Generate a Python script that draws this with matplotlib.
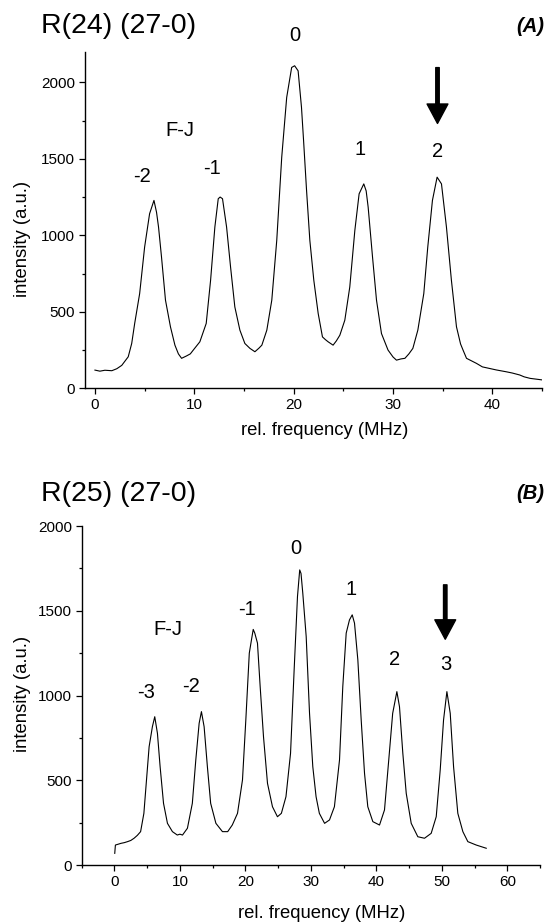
import matplotlib
matplotlib.use("Agg")
import matplotlib.pyplot as plt
from matplotlib.ticker import MultipleLocator

plt.rcParams['font.family'] = ['Liberation Sans', 'DejaVu Sans']

# panel A: R(24) (27-0)
freq_a = [0.0, 0.5, 1.0, 1.7, 2.2, 2.7, 3.35, 3.7, 4.0, 4.5, 5.0, 5.5, 5.94, 6.2, 6.4,
          6.7, 7.1, 7.6, 8.05, 8.4, 8.72, 9.2, 9.6, 9.9, 10.56, 11.2, 11.64, 12.07, 12.41,
          12.6, 12.84, 13.25, 13.65, 14.08, 14.59, 15.09, 15.6, 16.1, 16.5, 16.8, 17.3,
          17.8, 18.3, 18.8, 19.3, 19.8, 20.1, 20.45, 20.79, 21.0, 21.3, 21.63, 22.03,
          22.47, 22.9, 23.2, 23.47, 23.97, 24.3, 24.65, 25.15, 25.65, 26.16, 26.59, 27.06,
          27.3, 27.5, 27.94, 28.34, 28.84, 29.5, 30.0, 30.35, 30.8, 31.2, 31.6, 32.0, 32.5,
          33.1, 33.5, 33.97, 34.44, 34.88, 35.38, 35.88, 36.39, 36.8, 37.05, 37.4, 38.4,
          39.0, 39.7, 40.4, 41.4, 42.0, 42.76, 43.2, 43.8, 44.4, 45.0]
int_a = [119, 112, 118, 115, 128, 150, 206, 293, 424, 619, 923, 1141, 1228, 1150, 1054,
         858, 576, 402, 282, 225, 196, 211, 225, 250, 304, 424, 706, 1054, 1239,
         1250, 1239, 1054, 793, 532, 380, 293, 261, 239, 262, 282, 380,
         576, 967, 1510, 1901, 2097, 2108, 2075, 1836, 1619, 1293, 967, 706,
         489, 336, 318, 304, 282, 310, 347, 445, 662, 1032, 1271, 1336,
         1290, 1184, 858, 576, 358, 250, 205, 184, 192, 196, 225, 261, 380,
         619, 923, 1228, 1380, 1336, 1054, 706, 402, 290, 250, 196, 163,
         140, 130, 120, 108, 100, 87, 75, 65, 60, 55]

# panel B: R(25) (27-0)
freq_b = [0.05, 0.15, 0.5, 1.0, 1.5, 2.0, 2.5, 3.0, 3.5, 4.0, 4.5, 4.9, 5.3, 5.8, 6.16,
          6.57, 6.98, 7.5, 8.1, 8.86, 9.6, 10.0, 10.4, 11.15, 11.9, 12.43, 12.94, 13.29,
          13.7, 14.2, 14.7, 15.5, 16.5, 17.3, 18.0, 18.8, 19.56, 20.07, 20.6, 20.93, 21.2,
          21.44, 21.85, 22.26, 22.77, 23.38, 24.14, 24.9, 25.5, 26.2, 26.9, 27.45, 27.96,
          28.3, 28.5, 28.77, 29.29, 29.8, 30.3, 30.8, 31.3, 32.1, 32.85, 33.6, 34.38,
          34.88, 35.4, 35.9, 36.32, 36.67, 37.18, 37.69, 38.2, 38.7, 39.47, 40.49, 41.25,
          41.9, 42.5, 43.14, 43.54, 44.05, 44.57, 45.33, 46.34, 47.36, 48.38, 49.15, 49.76,
          50.27, 50.78, 51.29, 51.8, 52.45, 53.22, 53.98, 55.26, 56.79]
int_b = [69, 118, 122, 128, 132, 138, 145, 158, 175, 197, 305, 502, 698, 816, 875,
         777, 580, 364, 246, 197, 177, 182, 177, 217, 364, 620, 836, 905,
         816, 580, 364, 246, 197, 197, 236, 305, 502, 856, 1250, 1328, 1390,
         1368, 1309, 1053, 757, 482, 344, 285, 305, 403, 659, 1151, 1584,
         1741, 1720, 1604, 1348, 895, 580, 403, 305, 246, 266, 344, 620,
         1053, 1368, 1446, 1476, 1427, 1210, 856, 541, 344, 256, 236, 325,
         620, 895, 1023, 934, 659, 423, 246, 167, 158, 187, 285, 561,
         856, 1023, 895, 580, 305, 197, 138, 118, 99]

labels_a = ["F-J", "-2", "-1", "0", "1", "2"]
label_pos_a = [(8.55, 1684), (4.7, 1384), (11.74, 1434), (20.1, 2305), (26.66, 1558), (34.47, 1547)]
labels_b = ["F-J", "-3", "-2", "-1", "0", "1", "2", "3"]
label_pos_b = [(8.1, 1387), (4.78, 1017), (11.66, 1052), (20.3, 1505), (27.7, 1870),
               (36.17, 1623), (42.78, 1210), (50.68, 1181)]

fig = plt.figure(figsize=(5.46, 9.23), dpi=100)
ax1 = fig.add_axes([0.1557, 0.5793, 0.837, 0.3647])
ax2 = fig.add_axes([0.1496, 0.0628, 0.8394, 0.3673])


def style(ax, xlim, ylim, xlab_x, xlab_y, ylab_x, ylab_y):
    ax.set_xlim(*xlim)
    ax.set_ylim(*ylim)
    ax.spines['top'].set_visible(False)
    ax.spines['right'].set_visible(False)
    ax.spines['left'].set_linewidth(1.0)
    ax.spines['bottom'].set_linewidth(1.0)
    ax.xaxis.set_major_locator(MultipleLocator(10))
    ax.xaxis.set_minor_locator(MultipleLocator(5))
    ax.yaxis.set_major_locator(MultipleLocator(500))
    ax.yaxis.set_minor_locator(MultipleLocator(250))
    ax.tick_params(which='major', direction='out', length=4, width=0.9, labelsize=11, pad=3)
    ax.tick_params(which='minor', direction='out', length=2.5, width=0.9)
    ax.set_xlabel("rel. frequency (MHz)", fontsize=13.3, va='center')
    ax.set_ylabel("intensity (a.u.)", fontsize=13.3, va='center')
    ax.xaxis.set_label_coords(xlab_x, xlab_y)
    ax.yaxis.set_label_coords(ylab_x, ylab_y)


ax1.plot(freq_a, int_a, color='black', lw=0.8)
style(ax1, (-1, 45), (0, 2200), 0.525, -0.124, -0.137, 0.444)
for txt, (x, y) in zip(labels_a, label_pos_a):
    ax1.text(x, y, txt, fontsize=14.5, ha='center', va='center')
ax1.annotate("", xy=(34.48, 1731), xytext=(34.48, 2096),
             arrowprops=dict(facecolor='black', edgecolor='black', width=2.5,
                             headwidth=15, headlength=14))

ax2.plot(freq_b, int_b, color='black', lw=0.8)
style(ax2, (-5, 65), (0, 2000), 0.524, -0.142, -0.129, 0.504)
for txt, (x, y) in zip(labels_b, label_pos_b):
    ax2.text(x, y, txt, fontsize=14.5, ha='center', va='center')
ax2.annotate("", xy=(50.53, 1332), xytext=(50.53, 1653),
             arrowprops=dict(facecolor='black', edgecolor='black', width=2.5,
                             headwidth=15, headlength=14))

fig.text(41 / 546, 1 - 26 / 923, "R(24) (27-0)", fontsize=20.5, ha='left', va='center')
fig.text(41 / 546, 1 - 494 / 923, "R(25) (27-0)", fontsize=20.5, ha='left', va='center')
fig.text(544 / 546, 1 - 26 / 923, "(A)", fontsize=14.5, fontweight='bold',
         fontstyle='italic', ha='right', va='center')
fig.text(544 / 546, 1 - 494 / 923, "(B)", fontsize=14.5, fontweight='bold',
         fontstyle='italic', ha='right', va='center')

fig.savefig("out.png", dpi=100)
